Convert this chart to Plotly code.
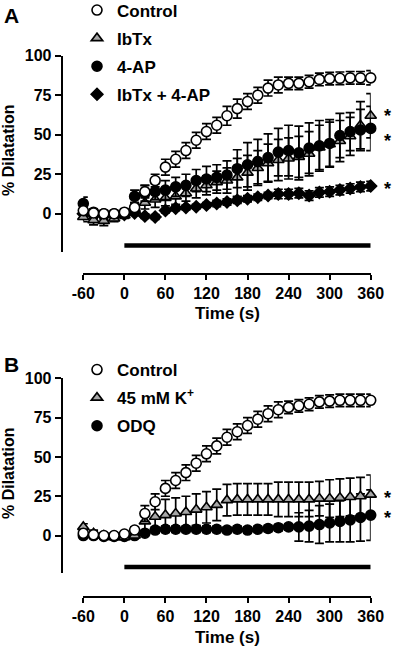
import plotly.graph_objects as go

# ---------------- data ----------------
times = list(range(-60, 361, 15))

# Panel A
a_control = [2, 0.5, 0, 0, 1, 4, 14, 21, 29.5, 34.5, 40, 46.5, 52, 56, 62, 66.5, 71, 75, 79.5,
             81.5, 82.5, 82.5, 83.5, 85, 85.5, 85.7, 86, 86, 86]
a_control_err = [3, 2, 2, 2, 2, 3, 4, 4, 5, 5, 5, 5, 5, 5, 6, 6, 5, 5, 5, 5, 4, 4, 4, 4, 4, 4, 4, 4, 4.5]

a_ibtx = [-2, -4, -4.5, -3, -1, 3, 7, 9, 10, 11, 13, 16, 18, 20, 21, 23, 26, 29, 32, 34, 35, 36, 38,
          42, 44, 46, 49, 56, 62]
a_ibtx_err = [3, 3, 3, 2, 2, 3, 4, 5, 5, 5, 5, 6, 6, 7, 8, 12, 11, 11, 12, 13, 13, 13, 14, 14, 14,
              13, 12, 15, 14]

a_4ap = [6.5, 1, 0, 0, 0, 11, 13, 14, 15, 17, 18, 21, 22, 23, 24.5, 28.5, 31, 33, 35.5, 39, 40, 38.5,
         41.5, 43, 44.5, 49.5, 52, 53, 54]
a_4ap_err = [4, 2, 2, 2, 2, 4, 5, 5, 6, 6, 7, 7, 8, 8, 9, 12, 14, 14, 15, 15, 16, 17, 16, 16, 15,
             14, 12, 13, 14]

a_combo = [0, -1, -1.5, -1, -0.5, 0.5, -1.5, -2, 2, 3.5, 4, 4.5, 5.5, 6.5, 7.5, 8.5, 9.5, 10.5, 11.5,
           12.5, 12.5, 13, 11.5, 13.5, 14, 15, 16, 17, 17.5]
a_combo_err = [2, 2, 2, 2, 1.5, 1.5, 1.5, 1.5, 1.5, 1.5, 1.5, 1.5, 1.5, 2, 2, 2, 2, 2, 2, 3, 3, 3, 3,
               3, 3, 3, 3, 3, 3]

# Panel B
b_control = [1.5, 0.5, 0, 0, 1, 3.5, 14, 21.5, 30, 35, 40, 46, 52, 57, 62.5, 66, 70, 74, 77.5, 80,
             81.5, 82.5, 83.5, 85, 85.5, 86, 86, 86, 86]
b_control_err = [2, 1.5, 1.5, 1.5, 1.5, 2, 5, 5, 5, 5, 5, 5, 5, 5, 5, 5, 5, 5, 5, 5, 4, 4, 4, 4, 4,
                 4, 4, 4, 4]

b_kplus = [5.5, 1.5, 0, -1, -1, 0, 9, 12, 13, 14, 15, 16.5, 18, 19.5, 22.5, 23, 23, 23, 23, 23, 23,
           23, 23, 23.5, 23.5, 24, 24.5, 25, 26]
b_kplus_err = [2, 2, 1.5, 1.5, 1.5, 1.5, 6, 10, 10, 10, 10, 10, 10, 10, 10, 10, 10, 10, 10, 11, 11,
               11, 11, 11, 12, 12, 12, 12, 12.5]

b_odq = [0, 0, -0.5, -0.5, -0.5, 0, 1.5, 3.5, 4, 4, 4, 4, 4, 4, 3.5, 4, 3.5, 4, 4.5, 5, 5.5, 5.5, 6,
         7, 8, 9, 10, 11.5, 13]
b_odq_err = [1.5, 1.5, 1.5, 1.5, 1.5, 1.5, 1.5, 2, 2, 2, 2, 2, 2, 2, 2, 2, 2, 2, 2, 2, 2, 9, 10, 12,
             12, 13, 14, 15, 16]

# application period bar
bar_x = [0, 360]
bar_y = [-20, -20]

x_ticks = [-60, 0, 60, 120, 180, 240, 300, 360]
x_ticktext = ["-60", "0", "60", "120", "180", "240", "300", "360"]
y_ticks = [0, 25, 50, 75, 100]

# significance stars (y values, panel A and B)
stars_a = [64.4, 48.5, 18.2]
stars_b = [26.5, 13.8]

# ---------------- geometry helpers ----------------
W, H = 400, 655
FONT = "Liberation Sans, Arial, sans-serif"


def fx(px):
    return px / W


def fy(py):
    return (H - py) / H


fig = go.Figure()


def add_series(x, y, err, name, xa, ya, symbol, fill, size, legend, rank, lw=1.6):
    fig.add_trace(go.Scatter(
        x=x, y=y, mode="markers", name=name, xaxis=xa, yaxis=ya,
        marker=dict(symbol=symbol, color=fill, size=size, line=dict(color="black", width=lw)),
        error_y=dict(type="data", array=err, color="black", thickness=1.7, width=4.5),
        cliponaxis=False, legend=legend, legendrank=rank, legendgroup=name + legend,
    ))


# Panel A (drawing order: bottom to top)
add_series(times, a_combo, a_combo_err, "IbTx + 4-AP", "x", "y", "diamond", "black", 9, "legend", 4)
add_series(times, a_ibtx, a_ibtx_err, "IbTx", "x", "y", "triangle-up", "#a6a6a6", 10, "legend", 2)
add_series(times, a_4ap, a_4ap_err, "4-AP", "x", "y", "circle", "black", 10, "legend", 3)
add_series(times, a_control, a_control_err, "Control", "x", "y", "circle", "white", 10, "legend", 1)

# Panel B
add_series(times, b_odq, b_odq_err, "ODQ", "x2", "y2", "circle", "black", 10, "legend2", 3)
add_series(times, b_kplus, b_kplus_err, "45 mM K<sup>+</sup>", "x2", "y2", "triangle-up", "#a6a6a6", 10, "legend2", 2)
add_series(times, b_control, b_control_err, "Control", "x2", "y2", "circle", "white", 10, "legend2", 1)

for xa, ya in (("x", "y"), ("x2", "y2")):
    fig.add_trace(go.Scatter(x=bar_x, y=bar_y, mode="lines", xaxis=xa, yaxis=ya,
                             line=dict(color="black", width=4.5), showlegend=False,
                             hoverinfo="skip", cliponaxis=False))

axis_common = dict(showline=True, linecolor="black", linewidth=2, ticks="outside",
                   tickcolor="black", tickwidth=2, showgrid=False, zeroline=False, automargin=False,
                   tickfont=dict(family=FONT, size=16, color="black", weight="bold"))

x_dom = [fx(83.3), fx(370.7)]

# Panel A axes: y 100 at 55.7px, -24 at 251.7px ; x-axis at 274px
fig.update_layout(
    xaxis=dict(domain=x_dom, range=[-60, 360], anchor="free", position=fy(274),
               tickvals=x_ticks, ticktext=x_ticktext, ticklen=5, **axis_common),
    yaxis=dict(domain=[fy(251.7), fy(55.7)], range=[-24, 100], anchor="free", position=fx(61.7),
               tickvals=y_ticks, ticklen=6, **axis_common),
    xaxis2=dict(domain=x_dom, range=[-60, 360], anchor="free", position=fy(596.7),
                tickvals=x_ticks, ticktext=x_ticktext, ticklen=5, **axis_common),
    yaxis2=dict(domain=[fy(573.3), fy(378.3)], range=[-24, 100], anchor="free", position=fx(61.7),
                tickvals=y_ticks, ticklen=6, **axis_common),
)

legend_common = dict(font=dict(family=FONT, size=17, color="black", weight="bold"),
                     bgcolor="rgba(0,0,0,0)", borderwidth=0, xanchor="left", yanchor="top",
                     tracegroupgap=3, itemsizing="trace")
fig.update_layout(
    legend=dict(x=fx(77), y=fy(-7.5), **legend_common),
    legend2=dict(x=fx(77), y=fy(352), **legend_common),
)

ann = []
title_font = dict(family=FONT, size=17, color="black", weight="bold")
# panel letters
ann.append(dict(text="A", x=fx(2), y=fy(15), xref="paper", yref="paper", xanchor="left",
                yanchor="middle", showarrow=False, font=dict(family=FONT, size=21, color="black", weight="bold")))
ann.append(dict(text="B", x=fx(2), y=fy(365), xref="paper", yref="paper", xanchor="left",
                yanchor="middle", showarrow=False, font=dict(family=FONT, size=21, color="black", weight="bold")))
# axis titles
for yc in (150, 473):
    ann.append(dict(text="% Dilatation", x=fx(8), y=fy(yc), xref="paper", yref="paper",
                    textangle=-90, showarrow=False, font=dict(family=FONT, size=16, color="black", weight="bold"),
                    xanchor="center", yanchor="middle"))
for yc in (314, 637):
    ann.append(dict(text="Time (s)", x=fx(227), y=fy(yc), xref="paper", yref="paper",
                    showarrow=False, font=title_font, xanchor="center", yanchor="middle"))
# stars
for v in stars_a:
    ann.append(dict(text="*", x=fx(393), y=v, xref="paper", yref="y", showarrow=False,
                    font=dict(family=FONT, size=18, color="black", weight="bold"), yshift=-4))
for v in stars_b:
    ann.append(dict(text="*", x=fx(393), y=v, xref="paper", yref="y2", showarrow=False,
                    font=dict(family=FONT, size=18, color="black", weight="bold"), yshift=-4))

fig.update_layout(
    width=W, height=H, margin=dict(l=0, r=0, t=0, b=0, pad=0, autoexpand=False), autosize=False,
    paper_bgcolor="white", plot_bgcolor="white", annotations=ann, hovermode=False,
)

fig.write_html("out.html", config={"displayModeBar": False},
               post_script="document.body.style.margin='0px';document.body.style.padding='0px';")
